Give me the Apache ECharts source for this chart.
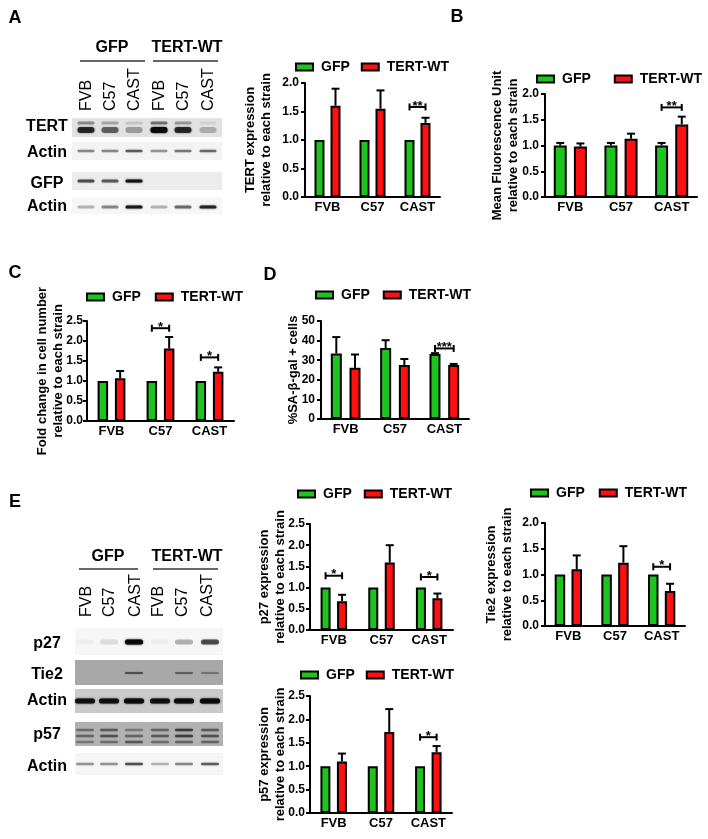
<!DOCTYPE html>
<html><head><meta charset="utf-8">
<script src="https://cdn.jsdelivr.net/npm/echarts@6/dist/echarts.min.js"></script>
<style>html,body{margin:0;padding:0;background:#fff}#c{width:708px;height:839px}</style>
</head><body><div id="c"></div>
<script>
const strains = ['FVB','C57','CAST'];
const seriesNames = ['GFP','TERT-WT'];

// Panel A: TERT expression
const A_gfp = [1, 1, 1];
const A_gfpErr = [1, 1, 1];
const A_tert = [1.6, 1.55, 1.3];
const A_tertErr = [1.9, 1.87, 1.39];
const A_sigCat = [2], A_sigY = [1.58], A_sigText = ['**'];

// Panel B: Mean fluorescence unit
const B_gfp = [1, 1, 1];
const B_gfpErr = [1.05, 1.05, 1.05];
const B_tert = [0.98, 1.13, 1.41];
const B_tertErr = [1.04, 1.23, 1.56];
const B_sigCat = [2], B_sigY = [1.74], B_sigText = ['**'];

// Panel C: Fold change in cell number
const C_gfp = [1, 1, 1];
const C_gfpErr = [1, 1, 1];
const C_tert = [1.07, 1.81, 1.23];
const C_tertErr = [1.25, 2.1, 1.34];
const C_sigCat = [1, 2], C_sigY = [2.32, 1.59], C_sigText = ['*', '*'];

// Panel D: %SA-beta-gal + cells
const D_gfp = [33.4, 36.2, 33.1];
const D_gfpErr = [41.8, 40.2, 33.6];
const D_tert = [26.1, 27.5, 27.6];
const D_tertErr = [32.9, 30.6, 28.1];
const D_sigCat = [2], D_sigY = [36], D_sigText = ['***'];

// Panel E: p27
const P27_gfp = [1, 1, 1];
const P27_gfpErr = [1, 1, 1];
const P27_tert = [0.68, 1.59, 0.75];
const P27_tertErr = [0.83, 2.0, 0.86];
const P27_sigCat = [0, 2], P27_sigY = [1.28, 1.25], P27_sigText = ['*', '*'];

// Panel E: Tie2
const TIE2_gfp = [1, 1, 1];
const TIE2_gfpErr = [1, 1, 1];
const TIE2_tert = [1.1, 1.23, 0.68];
const TIE2_tertErr = [1.37, 1.55, 0.82];
const TIE2_sigCat = [2], TIE2_sigY = [1.15], TIE2_sigText = ['*'];

// Panel E: p57
const P57_gfp = [1, 1, 1];
const P57_gfpErr = [1, 1, 1];
const P57_tert = [1.1, 1.73, 1.3];
const P57_tertErr = [1.27, 2.22, 1.43];
const P57_sigCat = [2], P57_sigY = [1.62], P57_sigText = ['*'];

// y axis ticks [min, max, interval]
const ticks2 = [0, 2, 0.5];
const ticks25 = [0, 2.5, 0.5];
const ticks50 = [0, 50, 10];

// Western blot lane band intensities (0..1)
const blotA_TERT_upper = [0.35, 0.25, 0.12, 0.45, 0.3, 0.08];
const blotA_TERT_main = [0.75, 0.5, 0.28, 1.0, 0.75, 0.22];
const blotA_Actin1 = [0.4, 0.4, 0.55, 0.35, 0.45, 0.5];
const blotA_GFP = [0.6, 0.55, 0.9, 0, 0, 0];
const blotA_Actin2 = [0.25, 0.4, 0.85, 0.25, 0.5, 0.8];
const blotE_p27 = [0.03, 0.1, 1, 0.03, 0.25, 0.6];
const blotE_Tie2 = [0, 0, 0.5, 0, 0.4, 0.3];
const blotE_Actin1 = [0.9, 0.9, 1, 0.9, 0.95, 1];
const blotE_p57a = [0.35, 0.45, 0.3, 0.4, 0.6, 0.45];
const blotE_p57b = [0.4, 0.5, 0.4, 0.45, 0.6, 0.5];
const blotE_p57c = [0.3, 0.35, 0.45, 0.35, 0.4, 0.4];
const blotE_Actin2 = [0.35, 0.35, 0.6, 0.25, 0.4, 0.55];
const laneLabels = ['FVB', 'C57', 'CAST', 'FVB', 'C57', 'CAST'];

const FONT = "'Liberation Sans', Arial, sans-serif";
const GREEN = '#1ec41e', RED = '#ff1010';

const specs = [
  {gfp:A_gfp, gfpErr:A_gfpErr, tert:A_tert, tertErr:A_tertErr, sc:A_sigCat, sy:A_sigY, st:A_sigText, t:ticks2, dec:1,
   name:'TERT expression\nrelative to each strain', grid:[305,83,135,114], bw:10, gap:0.6, lg:[295,60,11], ng:31, lm:6},
  {gfp:B_gfp, gfpErr:B_gfpErr, tert:B_tert, tertErr:B_tertErr, sc:B_sigCat, sy:B_sigY, st:B_sigText, t:ticks2, dec:1,
   name:'Mean Fluorescence Unit\nrelative to each strain', grid:[545,94,152,103], bw:13, gap:0.55, lg:[536,72,23], ng:24, lm:6},
  {gfp:C_gfp, gfpErr:C_gfpErr, tert:C_tert, tertErr:C_tertErr, sc:C_sigCat, sy:C_sigY, st:C_sigText, t:ticks25, dec:1,
   name:'Fold change in cell number\nrelative to each strain', grid:[87,321,147,100], bw:10.5, gap:0.65, lg:[86,290,14], ng:21, lm:4},
  {gfp:D_gfp, gfpErr:D_gfpErr, tert:D_tert, tertErr:D_tertErr, sc:D_sigCat, sy:D_sigY, st:D_sigText, t:ticks50, dec:0,
   name:'%SA-β-gal + cells', grid:[321,321,148,98], bw:11, gap:0.7, lg:[315,288,13], ng:20, lm:6},
  {gfp:P27_gfp, gfpErr:P27_gfpErr, tert:P27_tert, tertErr:P27_tertErr, sc:P27_sigCat, sy:P27_sigY, st:P27_sigText, t:ticks25, dec:1,
   name:'p27 expression\nrelative to each strain', grid:[310,524,143,106], bw:10, gap:0.65, lg:[297,487,12], ng:22, lm:5},
  {gfp:TIE2_gfp, gfpErr:TIE2_gfpErr, tert:TIE2_tert, tertErr:TIE2_tertErr, sc:TIE2_sigCat, sy:TIE2_sigY, st:TIE2_sigText, t:ticks2, dec:1,
   name:'Tie2 expression\nrelative to each strain', grid:[545,523,140,103], bw:10.5, gap:0.6, lg:[530,486,14], ng:30, lm:6},
  {gfp:P57_gfp, gfpErr:P57_gfpErr, tert:P57_tert, tertErr:P57_tertErr, sc:P57_sigCat, sy:P57_sigY, st:P57_sigText, t:ticks25, dec:1,
   name:'p57 expression\nrelative to each strain', grid:[310,696,142,117], bw:10, gap:0.65, lg:[300,668,11], ng:22, lm:5}
];

function errSeries(i, s) {
  const off = s.bw * (1 + s.gap) / 2;
  const data = [];
  s.gfp.forEach((v, k) => { if (s.gfpErr[k] > v) data.push([k, v, s.gfpErr[k], -1]); });
  s.tert.forEach((v, k) => { if (s.tertErr[k] > v) data.push([k, v, s.tertErr[k], 1]); });
  return {
    type: 'custom', xAxisIndex: i, yAxisIndex: i, z: 5, silent: true,
    encode: {x: 0, y: 2}, data,
    renderItem: function (params, api) {
      const k = api.value(0);
      const b = api.coord([k, api.value(1)]);
      const t = api.coord([k, api.value(2)]);
      const x = b[0] + off * api.value(3);
      return {type: 'group', children: [
        {type: 'line', shape: {x1: x, y1: b[1], x2: x, y2: t[1]}, style: {stroke: '#000', lineWidth: 2}},
        {type: 'line', shape: {x1: x - 4, y1: t[1], x2: x + 4, y2: t[1]}, style: {stroke: '#000', lineWidth: 2}}
      ]};
    }
  };
}

function sigSeries(i, s) {
  const off = s.bw * (1 + s.gap) / 2;
  const data = s.sc.map((c, k) => [c, s.sy[k]]);
  return {
    type: 'custom', xAxisIndex: i, yAxisIndex: i, z: 6, silent: true,
    encode: {x: 0, y: 1}, data,
    renderItem: function (params, api) {
      const p = api.coord([api.value(0), api.value(1)]);
      const x1 = p[0] - off, x2 = p[0] + off, y = p[1];
      return {type: 'group', children: [
        {type: 'line', shape: {x1: x1, y1: y, x2: x2, y2: y}, style: {stroke: '#000', lineWidth: 2}},
        {type: 'line', shape: {x1: x1, y1: y - 3.5, x2: x1, y2: y + 3.5}, style: {stroke: '#000', lineWidth: 2}},
        {type: 'line', shape: {x1: x2, y1: y - 3.5, x2: x2, y2: y + 3.5}, style: {stroke: '#000', lineWidth: 2}},
        {type: 'text', style: {text: s.st[params.dataIndex], x: p[0], y: y - 1, textAlign: 'center', textVerticalAlign: 'middle',
          font: 'bold 13px ' + FONT, fill: '#000'}}
      ]};
    }
  };
}

const series = [];
specs.forEach((s, i) => {
  series.push({type: 'bar', name: 'GFP', xAxisIndex: i, yAxisIndex: i, data: s.gfp, barWidth: s.bw, barGap: (s.gap * 100) + '%',
    itemStyle: {color: GREEN, borderColor: '#000', borderWidth: 2}, silent: true});
  series.push({type: 'bar', name: 'TERT-WT', xAxisIndex: i, yAxisIndex: i, data: s.tert, barWidth: s.bw, barGap: (s.gap * 100) + '%',
    itemStyle: {color: RED, borderColor: '#000', borderWidth: 2}, silent: true});
  series.push(errSeries(i, s));
  series.push(sigSeries(i, s));
});

// ---------- graphic (panel letters + western blots) ----------
const graphics = [];
function txt(x, y, text, size, weight, align, rot) {
  graphics.push({type: 'text', x: x, y: y, rotation: rot || 0, silent: true,
    style: {text: text, font: (weight || 'bold') + ' ' + size + 'px ' + FONT, fill: '#000',
      textAlign: align || 'center', textVerticalAlign: 'middle'}});
}
function hline(x1, x2, y) {
  graphics.push({type: 'line', silent: true, shape: {x1: x1, y1: y, x2: x2, y2: y}, style: {stroke: '#333', lineWidth: 1.5}});
}
function blot(label, labelY, x, y, w, h, bg, lanes, bandW, rows) {
  txt(47, labelY, label, 16, 'bold', 'center');
  graphics.push({type: 'rect', silent: true, shape: {x: x, y: y, width: w, height: h}, style: {fill: bg}});
  rows.forEach(r => {
    r.a.forEach((a, k) => {
      if (a <= 0) return;
      const c = 'rgba(10,10,10,' + a + ')';
      graphics.push({type: 'rect', silent: true,
        shape: {x: lanes[k] - bandW / 2, y: y + r.dy - r.h / 2, width: bandW, height: r.h, r: r.h / 2},
        style: {fill: c, shadowBlur: 2, shadowColor: c}});
    });
  });
}

// Panel letters
txt(15, 18, 'A', 18); txt(457, 17, 'B', 18); txt(15, 273, 'C', 18); txt(270, 275, 'D', 18); txt(15, 502, 'E', 18);

// Blot A
const lanesA = [86, 110, 134, 159, 183, 208];
txt(112, 48, 'GFP', 16); txt(187, 48, 'TERT-WT', 16);
hline(80, 145, 61); hline(153, 218, 61);
laneLabels.forEach((t, k) => txt(lanesA[k] + 1, 111, t, 16, 'normal', 'left', Math.PI / 2));
blot('TERT', 127, 72, 118, 150, 19, '#e2e2e2', lanesA, 17, [{dy: 5, h: 3, a: blotA_TERT_upper}, {dy: 12, h: 6, a: blotA_TERT_main}]);
blot('Actin', 153, 72, 142, 150, 18, '#f3f3f3', lanesA, 17, [{dy: 9, h: 2.5, a: blotA_Actin1}]);
blot('GFP', 184, 72, 172, 150, 18, '#ececec', lanesA, 17, [{dy: 9, h: 3, a: blotA_GFP}]);
blot('Actin', 207, 72, 198, 150, 16, '#f6f6f6', lanesA, 17, [{dy: 9, h: 3, a: blotA_Actin2}]);

// Blot E
const lanesE = [85, 109, 134, 160, 184, 210];
txt(108, 557, 'GFP', 16); txt(187, 557, 'TERT-WT', 16);
hline(79, 138, 569); hline(153, 218, 569);
laneLabels.forEach((t, k) => txt([87, 110, 136, 159, 183, 208][k], 617, t, 16, 'normal', 'left', Math.PI / 2));
blot('p27', 644, 75, 628, 148, 27, '#f6f6f6', lanesE, 18, [{dy: 14, h: 5, a: blotE_p27}]);
blot('Tie2', 675, 75, 660, 148, 25, '#a8a8a8', lanesE, 18, [{dy: 13, h: 2, a: blotE_Tie2}]);
blot('Actin', 701, 75, 689, 148, 24, '#cacaca', lanesE, 20, [{dy: 12, h: 5, a: blotE_Actin1}]);
blot('p57', 735, 75, 722, 148, 24, '#b2b2b2', lanesE, 18, [{dy: 8, h: 2.5, a: blotE_p57a}, {dy: 14, h: 2.5, a: blotE_p57b}, {dy: 20, h: 2.5, a: blotE_p57c}]);
blot('Actin', 767, 75, 753, 148, 22, '#f5f5f5', lanesE, 18, [{dy: 11, h: 2.5, a: blotE_Actin2}]);

const option = {
  animation: false,
  backgroundColor: '#fff',
  textStyle: {fontFamily: FONT},
  grid: specs.map(s => ({left: s.grid[0], top: s.grid[1], width: s.grid[2], height: s.grid[3]})),
  xAxis: specs.map((s, i) => ({
    type: 'category', gridIndex: i, data: strains,
    axisTick: {show: false},
    axisLine: {lineStyle: {color: '#000', width: 2}},
    axisLabel: {color: '#000', fontFamily: FONT, fontWeight: 'bold', fontSize: 13, margin: 4, interval: 0, hideOverlap: false}
  })),
  yAxis: specs.map((s, i) => ({
    type: 'value', gridIndex: i, min: s.t[0], max: s.t[1], interval: s.t[2],
    axisLine: {show: true, lineStyle: {color: '#000', width: 2}},
    axisTick: {show: true, length: 4, lineStyle: {color: '#000', width: 2}},
    splitLine: {show: false},
    axisLabel: {color: '#000', fontFamily: FONT, fontWeight: 'bold', fontSize: 12, margin: s.lm,
      formatter: v => v.toFixed(s.dec)},
    name: s.name, nameLocation: 'middle', nameRotate: 90, nameGap: s.ng, nameMoveOverlap: false,
    nameTextStyle: {color: '#000', fontFamily: FONT, fontWeight: 'bold', fontSize: 13, lineHeight: 16}
  })),
  legend: specs.map(s => ({
    left: s.lg[0], top: s.lg[1], itemGap: s.lg[2], padding: 0, selectedMode: false,
    data: seriesNames, icon: 'rect', itemWidth: 17, itemHeight: 7,
    itemStyle: {borderColor: '#000', borderWidth: 2},
    textStyle: {color: '#000', fontFamily: FONT, fontWeight: 'bold', fontSize: 14, padding: [0, 0, 0, 3]}
  })),
  graphic: {elements: graphics},
  series: series
};

const chart = echarts.init(document.getElementById('c'), null, {renderer: 'canvas'});
chart.setOption(option);
</script>
</body></html>
